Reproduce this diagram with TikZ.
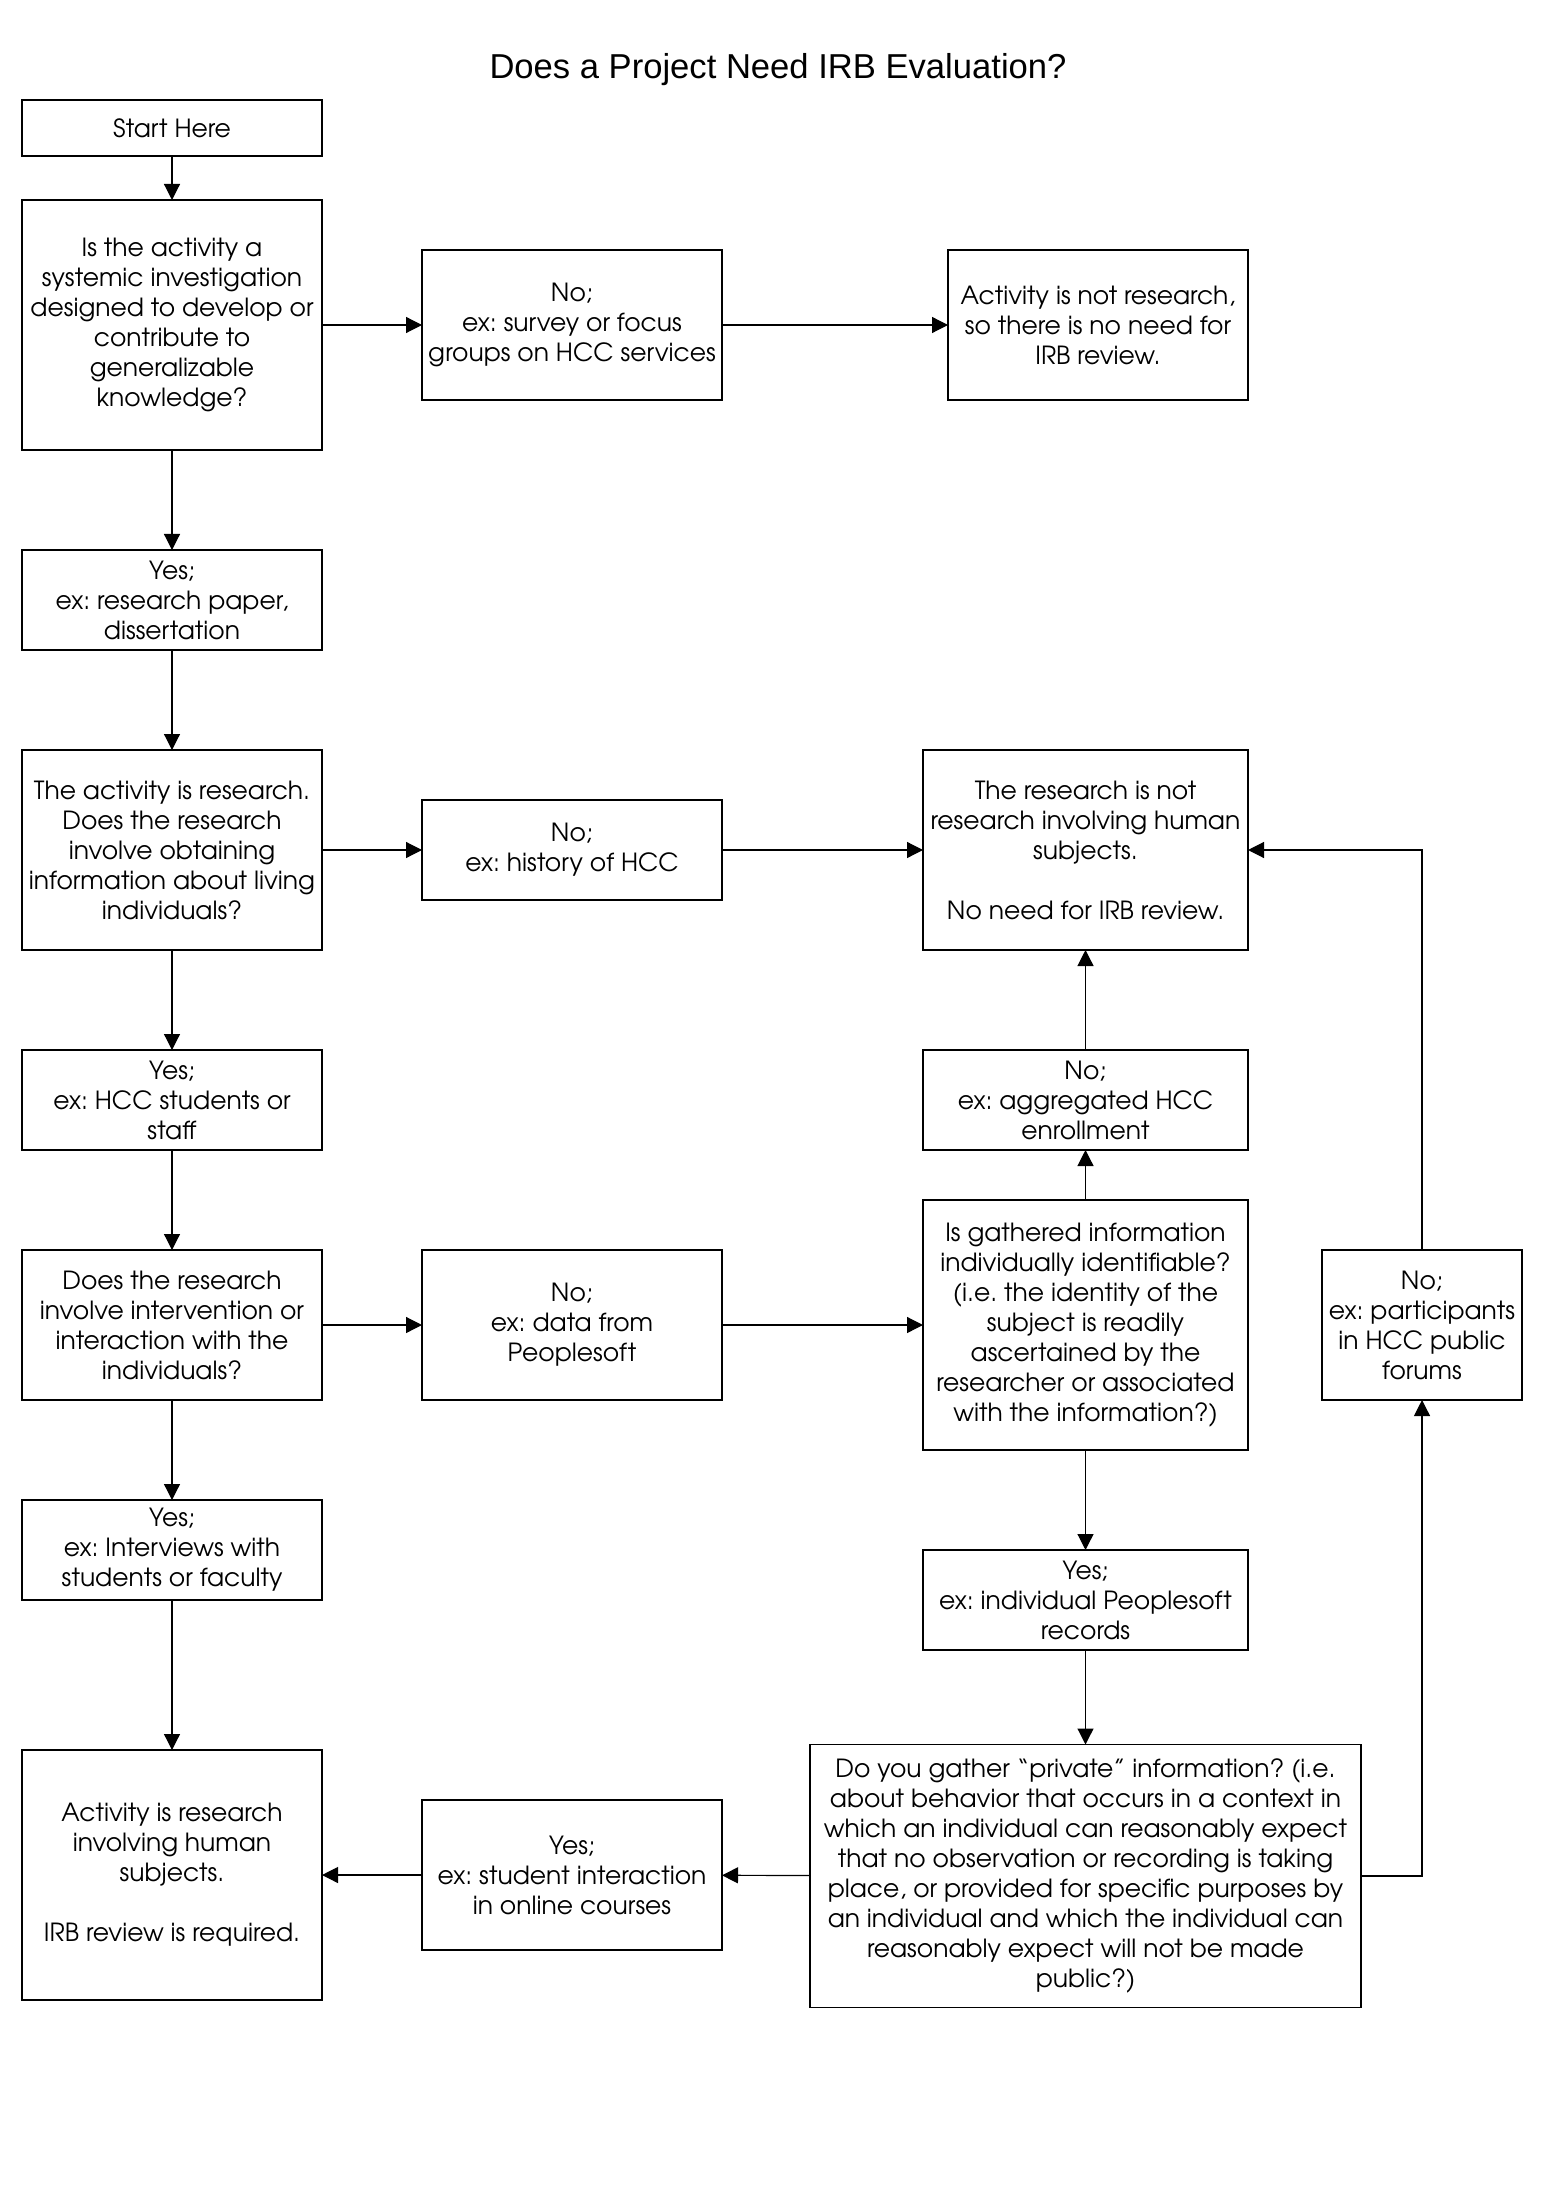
\documentclass[tikz,border=0pt]{standalone}
\usepackage{fontspec}
\setmainfont{texgyreadventor-regular.otf}
\newfontfamily\titlefont{Liberation Sans}
\usetikzlibrary{arrows.meta}
\frenchspacing
\tikzset{
  box/.style={draw, line width=0.6pt, inner sep=0pt, outer sep=0pt, align=center,
    font=\frenchspacing\fontsize{12.5}{15}\selectfont},
  arr/.style={line width=0.6pt, -{Triangle[length=8pt,width=8pt]}},
  ln/.style={line width=0.6pt}
}
\begin{document}
\begin{tikzpicture}[x=0.5pt,y=-0.5pt]
\useasboundingbox (0,0) rectangle (1547,2203);
\node[font=\titlefont\fontsize{17.3}{20}\selectfont] (title) at (778,70) {Does a Project Need IRB Evaluation?};

\node[box, minimum width=150pt, minimum height=28pt] (start) at (172,128) {Start Here};
\node[box, minimum width=150pt, minimum height=125pt] (q1) at (172,325) {Is the activity a\\systemic investigation\\designed to develop or\\contribute to\\generalizable\\knowledge?};
\node[box, minimum width=150pt, minimum height=75pt] (no1) at (572,325) {No;\\ex: survey or focus\\groups on HCC services};
\node[box, minimum width=150pt, minimum height=75pt] (notres) at (1098,325) {Activity is not research,\\so there is no need for\\IRB review.};

\node[box, minimum width=150pt, minimum height=50pt] (yes1) at (172,600) {Yes;\\ex: research paper,\\dissertation};

\node[box, minimum width=150pt, minimum height=100pt] (q2) at (172,850) {The activity is research.\\Does the research\\involve obtaining\\information about living\\individuals?};
\node[box, minimum width=150pt, minimum height=50pt] (no2) at (572,850) {No;\\ex: history of HCC};
\node[box, minimum width=162.5pt, minimum height=100pt] (nothuman) at (1085.5,850) {The research is not\\research involving human\\subjects.\\[15pt]No need for IRB review.};

\node[box, minimum width=150pt, minimum height=50pt] (yes2) at (172,1100) {Yes;\\ex: HCC students or\\staff};
\node[box, minimum width=162.5pt, minimum height=50pt] (noagg) at (1085.5,1100) {No;\\ex: aggregated HCC\\enrollment};

\node[box, minimum width=150pt, minimum height=75pt] (q3) at (172,1325) {Does the research\\involve intervention or\\interaction with the\\individuals?};
\node[box, minimum width=150pt, minimum height=75pt] (no3) at (572,1325) {No;\\ex: data from\\Peoplesoft};
\node[box, minimum width=162.5pt, minimum height=125pt] (q4) at (1085.5,1325) {Is gathered information\\individually identifiable?\\(i.e. the identity of the\\subject is readily\\ascertained by the\\researcher or associated\\with the information?)};
\node[box, minimum width=100pt, minimum height=75pt] (nopart) at (1422,1325) {No;\\ex: participants\\in HCC public\\forums};

\node[box, minimum width=150pt, minimum height=50pt] (yes3) at (172,1550) {Yes;\\ex: Interviews with\\students or faculty};
\node[box, minimum width=162.5pt, minimum height=50pt] (yes4) at (1085.5,1600) {Yes;\\ex: individual Peoplesoft\\records};

\node[box, minimum width=150pt, minimum height=125pt] (final) at (172,1875) {Activity is research\\involving human\\subjects.\\[15pt]IRB review is required.};
\node[box, minimum width=150pt, minimum height=75pt] (yes5) at (572,1875) {Yes;\\ex: student interaction\\in online courses};
\node[box, minimum width=275.5pt, minimum height=131.5pt] (q5) at (1085.5,1876) {Do you gather “private” information? (i.e.\\about behavior that occurs in a context in\\which an individual can reasonably expect\\that no observation or recording is taking\\place, or provided for specific purposes by\\an individual and which the individual can\\reasonably expect will not be made\\public?)};

% left column
\draw[arr] (start) -- (q1);
\draw[arr] (q1) -- (yes1);
\draw[arr] (yes1) -- (q2);
\draw[arr] (q2) -- (yes2);
\draw[arr] (yes2) -- (q3);
\draw[arr] (q3) -- (yes3);
\draw[arr] (yes3) -- (final);
% rows
\draw[arr] (q1) -- (no1);
\draw[arr] (no1) -- (notres);
\draw[arr] (q2) -- (no2);
\draw[arr] (no2) -- (nothuman);
\draw[arr] (q3) -- (no3);
\draw[arr] (no3) -- (q4);
\draw[arr] (q5) -- (yes5);
\draw[arr] (yes5) -- (final);
% right column
\draw[arr] (q4) -- (noagg);
\draw[arr] (noagg) -- (nothuman);
\draw[arr] (q4) -- (yes4);
\draw[arr] (yes4) -- (q5);
\draw[arr] (q5.east) -| (nopart.south);
\draw[arr] (nopart.north) |- (nothuman.east);
\end{tikzpicture}
\end{document}
